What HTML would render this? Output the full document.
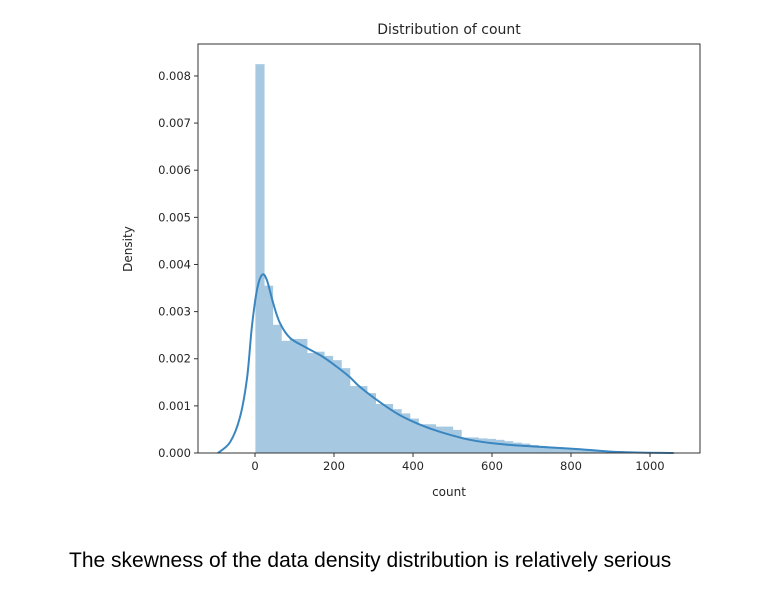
<!DOCTYPE html>
<html><head><meta charset="utf-8"><style>
body{margin:0;background:#fff;width:766px;height:592px;overflow:hidden}
svg text{font-family:"DejaVu Sans","Liberation Sans",sans-serif;fill:#262626}
.cap{position:absolute;left:69px;top:550px;font:21px/1 "Liberation Sans",sans-serif;color:#000;white-space:nowrap}
</style></head><body>
<svg id="chart" width="766" height="592" style="position:absolute;left:0;top:0"></svg>
<div class="cap">The skewness of the data density distribution is relatively serious</div>
<script>
const binStart = 1;
const binWidth = 21.7;
const barDensity = [8.25,3.55,2.72,2.38,2.42,2.42,2.12,2.15,2.06,1.97,1.80,1.42,1.42,1.27,1.04,1.04,0.93,0.84,0.73,0.61,0.61,0.56,0.56,0.49,0.33,0.33,0.31,0.30,0.28,0.25,0.22,0.20,0.17,0.15,0.13,0.12,0.10,0.08,0.07,0.05,0.04,0.03,0.025,0.02,0.015];
const kdeX = [-94,-63,-38,-20,-8,5,18,30,46,63,89,131,172,207,240,266,316,367,418,468,544,620,722,823,924,1060];
const kdeY = [0.0,0.23,0.76,1.6,2.67,3.46,3.78,3.67,3.18,2.76,2.44,2.23,2.04,1.83,1.61,1.40,1.08,0.8,0.6,0.45,0.28,0.19,0.13,0.08,0.02,0.0];
const xTicks = [0,200,400,600,800,1000];
const yTicks = [0,1,2,3,4,5,6,7,8];
const L=198,R=700,T=44,B=453;
const xs=v=>255+v*0.395;
const ys=v=>B-v*47.13; // v in units of 0.001
const svg=document.getElementById('chart');
const NS='http://www.w3.org/2000/svg';
function mk(t,a){const e=document.createElementNS(NS,t);for(const k in a)e.setAttribute(k,a[k]);svg.appendChild(e);return e;}
barDensity.forEach((d,i)=>{
  const x0=xs(binStart+i*binWidth),x1=xs(binStart+(i+1)*binWidth);
  const r=mk('rect',{x:x0,y:ys(d),width:x1-x0+0.6,height:B-ys(d),fill:'#a6c8e0'});
  
  
});
let pts=kdeX.map((x,i)=>[xs(x),ys(kdeY[i])]);
let d='M'+pts[0][0]+','+pts[0][1];
for(let i=0;i<pts.length-1;i++){
  const p0=pts[Math.max(0,i-1)],p1=pts[i],p2=pts[i+1],p3=pts[Math.min(pts.length-1,i+2)];
  const c1=[p1[0]+(p2[0]-p0[0])/6,p1[1]+(p2[1]-p0[1])/6];
  const c2=[p2[0]-(p3[0]-p1[0])/6,p2[1]-(p3[1]-p1[1])/6];
  d+=` C${c1[0]},${c1[1]} ${c2[0]},${c2[1]} ${p2[0]},${p2[1]}`;
}
const kl=mk('path',{d:d,fill:'none',stroke:'#3a86c0','stroke-width':2});


const fr=mk('rect',{x:L,y:T,width:R-L,height:B-T,fill:'none',stroke:'#333','stroke-width':1});


xTicks.forEach(v=>{
  mk('line',{x1:xs(v),x2:xs(v),y1:B,y2:B+4,stroke:'#333'});
  const t=mk('text',{x:xs(v),y:B+17,'text-anchor':'middle','font-size':11.5});
  t.textContent=v;
  
  
});
yTicks.forEach(v=>{
  mk('line',{x1:L-4,x2:L,y1:ys(v),y2:ys(v),stroke:'#333'});
  const t=mk('text',{x:L-7,y:ys(v)+4,'text-anchor':'end','font-size':11.5});
  t.textContent=(v/1000).toFixed(3);
  
  
});
const ti=mk('text',{x:449,y:34,'text-anchor':'middle','font-size':14});
ti.textContent='Distribution of count';


const xl=mk('text',{x:449,y:496,'text-anchor':'middle','font-size':12});
xl.textContent='count';


const yl=mk('text',{x:132,y:249,'text-anchor':'middle','font-size':12,transform:'rotate(-90 132 249)'});
yl.textContent='Density';


</script>
</body></html>
